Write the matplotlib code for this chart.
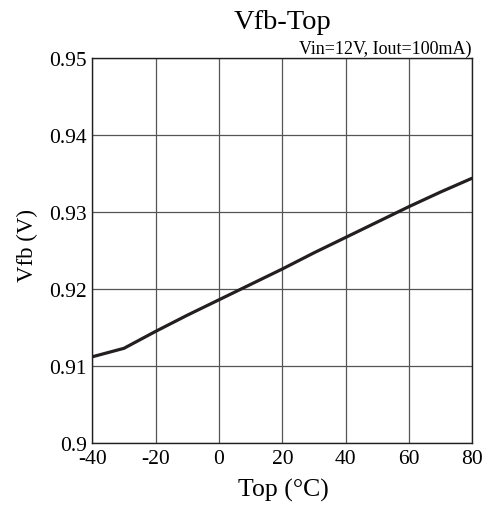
import matplotlib.pyplot as plt
import numpy as np

plt.rcParams['font.family'] = ['Liberation Serif', 'DejaVu Serif']

# temperature (degC) and feedback voltage (V)
top = [-40, -30, -20, -10, 0, 10, 20, 30, 40, 50, 60, 70, 80]
vfb = [0.9112, 0.9123, 0.9145, 0.9166, 0.9186, 0.9206, 0.9226,
       0.9247, 0.9267, 0.9287, 0.9307, 0.9326, 0.9344]

xticks = [-40, -20, 0, 20, 40, 60, 80]
yticks = [0.9, 0.91, 0.92, 0.93, 0.94, 0.95]
ylabels = ["0.9", "0.91", "0.92", "0.93", "0.94", "0.95"]

fig = plt.figure(figsize=(4.89, 5.06), dpi=100)
ax = fig.add_axes([0.1888, 0.1225, 0.7771, 0.7609])

ax.plot(np.array(top), np.array(vfb), color="#231f20", lw=2.3, solid_capstyle="butt")

ax.set_xlim(-40, 80)
ax.set_ylim(0.9, 0.95)
ax.set_xticks(xticks)
ax.set_xticklabels([str(t) for t in xticks])
ax.set_yticks(yticks)
ax.set_yticklabels(ylabels)
ax.tick_params(length=0, labelsize=15.5)
ax.tick_params(axis="x", pad=4.5)
ax.tick_params(axis="y", pad=4)
ax.grid(True, color="#555555", lw=0.9)
ax.set_axisbelow(True)
for s in ax.spines.values():
    s.set_color("#231f20")
    s.set_linewidth(1.0)

fig.text(283.5 / 489, 1 - 490.5 / 506, "Top (\u00b0C)", ha="center", va="center", fontsize=18.5)
fig.text(27.5 / 489, 1 - 246 / 506, "Vfb (V)", ha="center", va="center",
         rotation=90, fontsize=16.5)

fig.text(283 / 489, 1 - 29.3 / 506, "Vfb-Top", ha="center", va="baseline", fontsize=20.5)
fig.text(472 / 489, 1 - 54 / 506, "Vin=12V, Iout=100mA)", ha="right", va="baseline",
         fontsize=13)

fig.savefig("out.png", dpi=100)
